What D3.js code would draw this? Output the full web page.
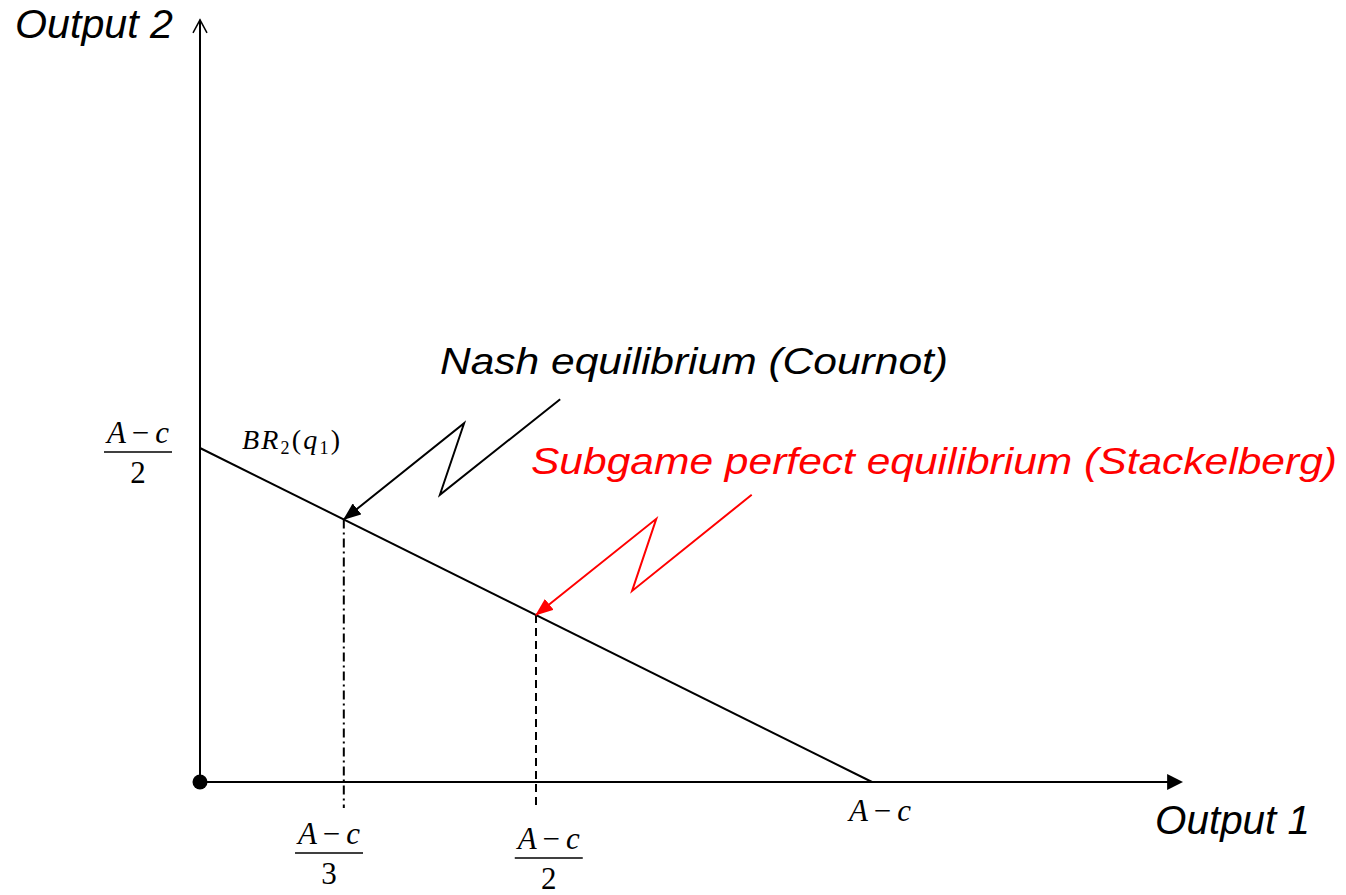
<!DOCTYPE html>
<html>
<head>
<meta charset="utf-8">
<script src="https://cdn.jsdelivr.net/npm/d3@7"></script>
<style>
  body { margin: 0; background: #fff; }
  svg { display: block; }
  .label { font-family: 'Liberation Sans', Arial, sans-serif; font-style: italic; }
  .math { font-family: 'Times New Roman', 'Liberation Serif', Times, serif; }
</style>
</head>
<body>
<svg></svg>
<script>
const width = 1346;
const height = 895;

// quantities measured in units of (A - c)
const axisEnds = { q1: 1.463, q2: 1.141 };
const brLine = [[0, 0.5], [1, 0]];
const equilibria = [
  { name: 'Nash equilibrium (Cournot)', q1: 0.214, q2: 0.393, drop: -0.039, dash: '9,4,2,4', color: '#000' },
  { name: 'Subgame perfect equilibrium (Stackelberg)', q1: 0.5, q2: 0.25, drop: -0.036, dash: '8,5', color: '#ff0000' }
];
// lightning-bolt pointers, tail first, ending at the equilibrium
const pointers = [
  [[0.536, 0.573], [0.357, 0.430], [0.393, 0.537], [0.214, 0.393]],
  [[0.821, 0.430], [0.643, 0.286], [0.679, 0.394], [0.5, 0.25]]
];
const xTicks = [
  { value: 0.192, den: '3' },
  { value: 0.519, den: '2' }
];
const yTicks = [{ value: 0.5, den: '2' }];

const xScale = d3.scaleLinear()
    .domain([0, 1])
    .range([200, 872]);

const yScale = d3.scaleLinear()
    .domain([0, 0.5])
    .range([782, 448]);

const svg = d3.select('svg')
    .attr('width', width)
    .attr('height', height);

const defs = svg.append('defs');
equilibria.forEach((d, i) => {
  defs.append('marker')
      .attr('id', 'head' + i)
      .attr('markerUnits', 'userSpaceOnUse')
      .attr('viewBox', '0 0 18 14')
      .attr('refX', 17)
      .attr('refY', 7)
      .attr('markerWidth', 18)
      .attr('markerHeight', 14)
      .attr('orient', 'auto')
    .append('path')
      .attr('d', 'M0,0 L18,7 L0,14 Z')
      .attr('fill', d.color);
});
defs.append('marker')
    .attr('id', 'xhead')
    .attr('markerUnits', 'userSpaceOnUse')
    .attr('viewBox', '0 0 16 16')
    .attr('refX', 8)
    .attr('refY', 8)
    .attr('markerWidth', 16)
    .attr('markerHeight', 16)
    .attr('orient', 'auto')
  .append('path')
    .attr('d', 'M0,0 L16,8 L0,16 Z')
    .attr('fill', '#000');

// axes
svg.append('line')
    .attr('x1', xScale(0)).attr('y1', yScale(0))
    .attr('x2', xScale(axisEnds.q1) - 8).attr('y2', yScale(0))
    .attr('stroke', '#000').attr('stroke-width', 2)
    .attr('marker-end', 'url(#xhead)');

svg.append('line')
    .attr('x1', xScale(0)).attr('y1', yScale(0))
    .attr('x2', xScale(0)).attr('y2', yScale(axisEnds.q2))
    .attr('stroke', '#000').attr('stroke-width', 2);

svg.append('path')
    .attr('d', `M${xScale(0) - 7},${yScale(axisEnds.q2) + 13} L${xScale(0)},${yScale(axisEnds.q2)} L${xScale(0) + 7},${yScale(axisEnds.q2) + 13}`)
    .attr('fill', 'none')
    .attr('stroke', '#000')
    .attr('stroke-width', 1.5);

svg.append('circle')
    .attr('cx', xScale(0))
    .attr('cy', yScale(0))
    .attr('r', 7.5)
    .attr('fill', '#000');

// best response of firm 2
const line = d3.line()
    .x(d => xScale(d[0]))
    .y(d => yScale(d[1]));

svg.append('path')
    .datum(brLine)
    .attr('d', line)
    .attr('fill', 'none')
    .attr('stroke', '#000')
    .attr('stroke-width', 2);

// drop lines
svg.selectAll('.drop')
    .data(equilibria)
    .enter()
    .append('line')
      .classed('drop', true)
      .attr('x1', d => xScale(d.q1))
      .attr('y1', d => yScale(d.q2))
      .attr('x2', d => xScale(d.q1))
      .attr('y2', d => yScale(d.drop))
      .attr('stroke', '#000')
      .attr('stroke-width', 2)
      .attr('stroke-dasharray', d => d.dash);

// pointers
svg.selectAll('.pointer')
    .data(pointers)
    .enter()
    .append('path')
      .classed('pointer', true)
      .attr('d', line)
      .attr('fill', 'none')
      .attr('stroke', (d, i) => equilibria[i].color)
      .attr('stroke-width', 2)
      .attr('stroke-linejoin', 'miter')
      .attr('marker-end', (d, i) => `url(#head${i})`);

// text labels
svg.append('text')
    .classed('label', true)
    .attr('x', 15).attr('y', 38)
    .attr('font-size', 40)
    .attr('textLength', 158)
    .attr('lengthAdjust', 'spacingAndGlyphs')
    .text('Output 2');

svg.append('text')
    .classed('label', true)
    .attr('x', 1155).attr('y', 834)
    .attr('font-size', 40)
    .attr('textLength', 155)
    .attr('lengthAdjust', 'spacingAndGlyphs')
    .text('Output 1');

svg.append('text')
    .classed('label', true)
    .attr('x', 440).attr('y', 374)
    .attr('font-size', 37)
    .attr('textLength', 508)
    .attr('lengthAdjust', 'spacingAndGlyphs')
    .text(equilibria[0].name);

svg.append('text')
    .classed('label', true)
    .attr('x', 531).attr('y', 474)
    .attr('font-size', 37)
    .attr('fill', equilibria[1].color)
    .attr('textLength', 806)
    .attr('lengthAdjust', 'spacingAndGlyphs')
    .text(equilibria[1].name);

// math labels
function aMinusC(sel) {
  sel.append('tspan').attr('font-style', 'italic').text('A');
  sel.append('tspan').attr('dx', 6).text('\u2212');
  sel.append('tspan').attr('dx', 6).attr('font-style', 'italic').text('c');
}

function fraction(cx, barY, den) {
  const g = svg.append('g').classed('math', true).attr('font-size', 31);
  g.append('text')
      .attr('x', cx).attr('y', barY - 9)
      .attr('text-anchor', 'middle')
      .call(aMinusC);
  g.append('line')
      .attr('x1', cx - 34).attr('x2', cx + 34)
      .attr('y1', barY).attr('y2', barY)
      .attr('stroke', '#000').attr('stroke-width', 1.5);
  g.append('text')
      .attr('x', cx).attr('y', barY + 31)
      .attr('text-anchor', 'middle')
      .text(den);
}

yTicks.forEach(d => fraction(138, yScale(d.value) + 4, d.den));
fraction(xScale(xTicks[0].value), 853, xTicks[0].den);
fraction(xScale(xTicks[1].value), 858, xTicks[1].den);

svg.append('text')
    .classed('math', true)
    .attr('x', xScale(1) + 8).attr('y', 821)
    .attr('font-size', 31)
    .attr('text-anchor', 'middle')
    .call(aMinusC);

const br = svg.append('text')
    .classed('math', true)
    .attr('x', 242).attr('y', 449)
    .attr('font-size', 28)
    .attr('textLength', 98)
    .attr('lengthAdjust', 'spacing');
br.append('tspan').attr('font-style', 'italic').text('BR');
br.append('tspan').attr('font-size', 18).attr('dy', 5).text('2');
br.append('tspan').attr('dy', -5).text('(');
br.append('tspan').attr('font-style', 'italic').text('q');
br.append('tspan').attr('font-size', 18).attr('dy', 5).text('1');
br.append('tspan').attr('dy', -5).text(')');
</script>
</body>
</html>
